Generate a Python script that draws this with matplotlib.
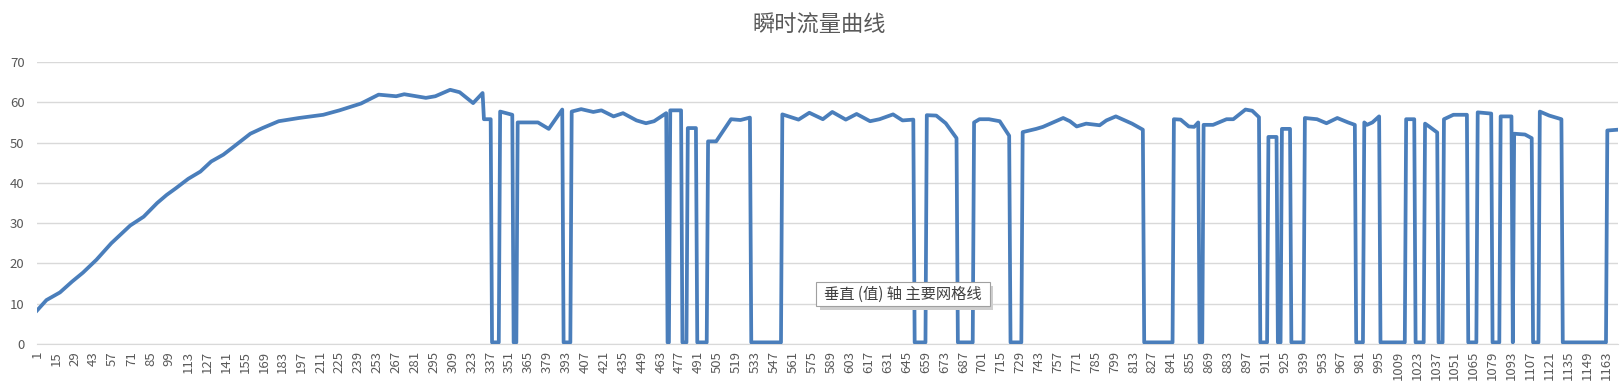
import matplotlib
matplotlib.use("Agg")
import matplotlib.pyplot as plt
from matplotlib.patches import Rectangle

plt.rcParams['font.family'] = ['Noto Sans CJK SC', 'DejaVu Sans']

# breakpoints: sample index -> instantaneous flow
idx = [1, 8, 18, 27, 35, 45, 56, 70, 80, 90, 97, 104, 113, 122, 130, 139, 146,
       159, 168, 180, 195, 213, 225, 241, 254, 267, 273, 289, 296, 307, 314, 324,
       331, 332, 337, 338, 343, 344, 353, 354, 356, 357, 372, 380, 390, 391, 396,
       397, 404, 413, 419, 428, 435, 445, 452, 458, 467, 468, 469, 470, 478, 479,
       482, 483, 489, 490, 497, 498, 504, 515, 522, 529, 530, 552, 553, 565, 573,
       583, 590, 600, 608, 618, 625, 635, 642, 650, 651, 659, 660, 667, 674, 682,
       683, 694, 695, 699, 706, 714, 721, 722, 730, 731, 741, 746, 761, 766, 771,
       778, 788, 793, 800, 812, 820, 821, 842, 843, 848, 854, 858, 861, 862, 864,
       865, 872, 882, 887, 896, 901, 906, 907, 912, 913, 919, 920, 922, 923, 929,
       930, 939, 940, 949, 956, 964, 972, 977, 978, 983, 984, 986, 990, 995, 996,
       1014, 1015, 1021, 1022, 1028, 1029, 1032, 1038, 1039, 1042, 1043, 1050,
       1060, 1061, 1067, 1068, 1078, 1079, 1084, 1085, 1093, 1094, 1095, 1103,
       1108, 1109, 1113, 1114, 1121, 1130, 1131, 1163, 1164, 1172]
flow = [8.3, 10.9, 12.8, 15.5, 17.7, 20.9, 25.0, 29.4, 31.6, 35.0, 37.0, 38.7,
        41.0, 42.8, 45.3, 47.0, 48.8, 52.2, 53.6, 55.3, 56.1, 56.9, 58.0, 59.7,
        61.9, 61.5, 62.0, 61.1, 61.5, 63.1, 62.5, 59.8, 62.3, 55.8, 55.8, 0.4,
        0.4, 57.7, 56.9, 0.4, 0.4, 55.0, 55.0, 53.4, 58.2, 0.4, 0.4, 57.7, 58.3,
        57.6, 58.0, 56.5, 57.3, 55.5, 54.8, 55.3, 57.3, 0.4, 0.4, 58.0, 58.0, 0.4,
        0.4, 53.6, 53.6, 0.4, 0.4, 50.3, 50.3, 55.8, 55.6, 56.2, 0.4, 0.4, 57.0,
        55.7, 57.4, 55.8, 57.6, 55.7, 57.1, 55.3, 55.8, 57.0, 55.5, 55.7, 0.4, 0.4,
        56.8, 56.7, 54.8, 51.1, 0.4, 0.4, 55.0, 55.8, 55.8, 55.3, 51.7, 0.4, 0.4,
        52.6, 53.4, 53.9, 56.1, 55.3, 54.0, 54.7, 54.3, 55.5, 56.5, 54.7, 53.2,
        0.4, 0.4, 55.8, 55.7, 54.0, 53.9, 55.0, 0.4, 0.4, 54.4, 54.4, 55.8, 55.8,
        58.2, 57.9, 56.3, 0.4, 0.4, 51.4, 51.4, 0.4, 0.4, 53.4, 53.4, 0.4, 0.4,
        56.1, 55.8, 54.8, 56.1, 55.0, 54.4, 0.4, 0.4, 55.0, 54.4, 55.0, 56.5, 0.4,
        0.4, 55.8, 55.8, 0.4, 0.4, 54.7, 54.0, 52.5, 0.4, 0.4, 55.8, 56.9, 56.9,
        0.4, 0.4, 57.5, 57.2, 0.4, 0.4, 56.5, 56.5, 0.4, 52.2, 52.0, 51.1, 0.4,
        0.4, 57.7, 56.7, 55.8, 0.4, 0.4, 53.0, 53.2]

n_points = 1172
tick_pos = list(range(1, n_points + 1, 14))
yticks = [0, 10, 20, 30, 40, 50, 60, 70]

fig = plt.figure(figsize=(16.23, 3.9), dpi=100)
ax = fig.add_axes([0.0228, 0.118, 0.9742, 0.723])

ax.plot(idx, flow, color='#4A7EBB', linewidth=2.7, solid_joinstyle='round',
        zorder=3)

ax.set_xlim(1, n_points)
ax.set_ylim(0, 70)
ax.set_yticks(yticks)
ax.set_xticks(tick_pos)
ax.set_xticklabels([str(t) for t in tick_pos], rotation=90, va='top',
                   ha='center')
ax.tick_params(axis='both', length=0, labelsize=9.5, labelcolor='#595959')
ax.tick_params(axis='y', pad=9)
ax.tick_params(axis='x', pad=5)
ax.grid(axis='y', color='#D9D9D9', linewidth=1)
ax.set_axisbelow(True)
for side in ['left', 'right', 'top']:
    ax.spines[side].set_visible(False)
ax.spines['bottom'].set_color('#D9D9D9')

fig.text(0.505, 0.935, '瞬时流量曲线', ha='center', va='center',
         fontsize=16, color='#595959')

# hover tooltip left on the gridline
bx, by, bw, bh = 0.503, 0.215, 0.107, 0.062
fig.patches.append(Rectangle((bx + 0.002, by - 0.01), bw, bh,
                             transform=fig.transFigure, facecolor='#CFCFCF',
                             edgecolor='none', zorder=5))
fig.patches.append(Rectangle((bx, by), bw, bh, transform=fig.transFigure,
                             facecolor='white', edgecolor='#A0A0A0',
                             linewidth=0.8, zorder=6))
fig.text(bx + bw / 2, by + bh / 2, '垂直 (值) 轴 主要网格线', ha='center',
         va='center', fontsize=11, color='#404040', zorder=7)

fig.savefig('out.png', dpi=100)
